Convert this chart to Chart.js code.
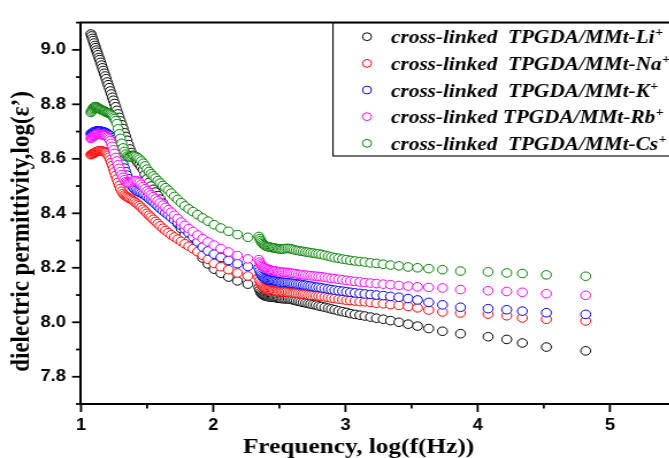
<!DOCTYPE html>
<html>
<head>
<meta charset="utf-8">
<script src="https://cdn.jsdelivr.net/npm/chart.js@4.4.1/dist/chart.umd.min.js"></script>
<style>
  html, body { margin: 0; padding: 0; background: #fff; width: 669px; height: 458px; overflow: hidden; }
  /* the original figure is stretched sideways a little */
  #wrap { width: 600px; height: 458px; transform: scaleX(1.15); transform-origin: 0 0; }
</style>
</head>
<body>
<div id="wrap"><canvas id="chart" width="600" height="458"></canvas></div>
<script>
// log10 of frequency, shared by all five samples (low sweep, then high sweep)
const logFreq = [
  1.075, 1.080, 1.086, 1.092, 1.098, 1.104, 1.110, 1.116, 1.122, 1.128,
  1.135, 1.141, 1.148, 1.155, 1.162, 1.169, 1.176, 1.183, 1.190, 1.198,
  1.205, 1.213, 1.221, 1.229, 1.237, 1.245, 1.253, 1.262, 1.271, 1.280,
  1.289, 1.298, 1.308, 1.318, 1.328, 1.338, 1.348, 1.359, 1.370, 1.381,
  1.393, 1.405, 1.417, 1.430, 1.442, 1.456, 1.470, 1.484, 1.499, 1.514,
  1.530, 1.546, 1.563, 1.581, 1.599, 1.619, 1.639, 1.660, 1.682, 1.706,
  1.731, 1.757, 1.785, 1.815, 1.847, 1.882, 1.920, 1.961, 2.007, 2.058,
  2.116, 2.183, 2.262,
  2.345, 2.352, 2.359, 2.366, 2.374, 2.382, 2.390, 2.398, 2.407, 2.416,
  2.425, 2.435, 2.445, 2.455, 2.466, 2.477, 2.489, 2.501, 2.513, 2.526,
  2.539, 2.553, 2.567, 2.582, 2.597, 2.613, 2.629, 2.646, 2.663, 2.681,
  2.699, 2.718, 2.737, 2.757, 2.777, 2.798, 2.819, 2.844, 2.870, 2.894,
  2.920, 2.948, 2.978, 3.008, 3.038, 3.072, 3.109, 3.147, 3.190, 3.235,
  3.286, 3.341, 3.404, 3.474, 3.545, 3.630, 3.734, 3.870, 4.079, 4.220,
  4.338, 4.520, 4.817
];

const epsLi = [
  9.058, 9.051, 9.042, 9.034, 9.025, 9.016, 9.008, 8.999, 8.991, 8.982,
  8.972, 8.964, 8.954, 8.944, 8.934, 8.924, 8.914, 8.904, 8.894, 8.882,
  8.872, 8.861, 8.849, 8.838, 8.826, 8.815, 8.803, 8.791, 8.778, 8.765,
  8.752, 8.739, 8.725, 8.711, 8.696, 8.682, 8.668, 8.652, 8.636, 8.623,
  8.613, 8.604, 8.596, 8.587, 8.579, 8.570, 8.560, 8.543, 8.527, 8.513,
  8.500, 8.488, 8.478, 8.465, 8.452, 8.437, 8.422, 8.408, 8.395, 8.378,
  8.362, 8.344, 8.322, 8.300, 8.281, 8.260, 8.236, 8.214, 8.195, 8.180,
  8.166, 8.152, 8.140,
  8.128, 8.118, 8.110, 8.105, 8.101, 8.099, 8.097, 8.096, 8.095, 8.094,
  8.093, 8.093, 8.092, 8.092, 8.091, 8.090, 8.089, 8.088, 8.087, 8.087,
  8.086, 8.086, 8.086, 8.085, 8.083, 8.081, 8.079, 8.077, 8.075, 8.073,
  8.071, 8.069, 8.067, 8.065, 8.063, 8.060, 8.058, 8.055, 8.052, 8.049,
  8.046, 8.042, 8.039, 8.036, 8.032, 8.029, 8.026, 8.023, 8.019, 8.015,
  8.011, 8.006, 8.000, 7.993, 7.986, 7.977, 7.967, 7.958, 7.947, 7.937,
  7.924, 7.909, 7.895
];

const epsNa = [
  8.615, 8.617, 8.618, 8.620, 8.621, 8.623, 8.624, 8.626, 8.627, 8.628,
  8.628, 8.629, 8.629, 8.628, 8.628, 8.627, 8.626, 8.624, 8.622, 8.618,
  8.613, 8.606, 8.597, 8.587, 8.576, 8.564, 8.552, 8.539, 8.526, 8.514,
  8.502, 8.491, 8.481, 8.473, 8.467, 8.463, 8.460, 8.457, 8.454, 8.451,
  8.447, 8.443, 8.438, 8.433, 8.428, 8.422, 8.415, 8.408, 8.400, 8.393,
  8.386, 8.378, 8.370, 8.362, 8.354, 8.345, 8.337, 8.329, 8.321, 8.313,
  8.305, 8.297, 8.288, 8.279, 8.270, 8.259, 8.246, 8.231, 8.216, 8.204,
  8.193, 8.181, 8.170,
  8.165, 8.152, 8.143, 8.137, 8.132, 8.128, 8.125, 8.123, 8.121, 8.119,
  8.118, 8.117, 8.116, 8.115, 8.114, 8.113, 8.113, 8.112, 8.112, 8.111,
  8.111, 8.111, 8.110, 8.109, 8.108, 8.107, 8.106, 8.105, 8.104, 8.103,
  8.102, 8.100, 8.099, 8.098, 8.097, 8.096, 8.095, 8.093, 8.091, 8.089,
  8.087, 8.085, 8.083, 8.081, 8.080, 8.078, 8.076, 8.075, 8.073, 8.070,
  8.068, 8.065, 8.062, 8.058, 8.053, 8.045, 8.038, 8.034, 8.030, 8.024,
  8.016, 8.011, 8.005
];

const epsK = [
  8.692, 8.694, 8.696, 8.697, 8.699, 8.700, 8.701, 8.702, 8.702, 8.702,
  8.702, 8.702, 8.701, 8.701, 8.700, 8.699, 8.698, 8.697, 8.695, 8.693,
  8.690, 8.688, 8.684, 8.678, 8.671, 8.664, 8.656, 8.646, 8.636, 8.625,
  8.614, 8.604, 8.593, 8.580, 8.566, 8.553, 8.540, 8.527, 8.515, 8.505,
  8.495, 8.488, 8.484, 8.480, 8.477, 8.474, 8.470, 8.466, 8.460, 8.454,
  8.448, 8.442, 8.434, 8.426, 8.418, 8.410, 8.402, 8.394, 8.385, 8.376,
  8.366, 8.355, 8.342, 8.328, 8.313, 8.295, 8.276, 8.262, 8.250, 8.238,
  8.227, 8.215, 8.205,
  8.200, 8.188, 8.179, 8.173, 8.168, 8.164, 8.161, 8.159, 8.157, 8.156,
  8.155, 8.154, 8.153, 8.152, 8.151, 8.150, 8.149, 8.148, 8.147, 8.147,
  8.146, 8.146, 8.145, 8.144, 8.143, 8.142, 8.141, 8.140, 8.139, 8.137,
  8.136, 8.134, 8.133, 8.131, 8.129, 8.128, 8.126, 8.124, 8.122, 8.120,
  8.118, 8.116, 8.114, 8.112, 8.110, 8.108, 8.106, 8.104, 8.102, 8.100,
  8.098, 8.095, 8.092, 8.087, 8.082, 8.073, 8.064, 8.055, 8.050, 8.046,
  8.041, 8.035, 8.029
];

const epsRb = [
  8.675, 8.677, 8.680, 8.682, 8.684, 8.686, 8.688, 8.689, 8.690, 8.690,
  8.690, 8.690, 8.689, 8.689, 8.688, 8.687, 8.686, 8.685, 8.684, 8.681,
  8.678, 8.673, 8.667, 8.657, 8.646, 8.633, 8.620, 8.605, 8.592, 8.578,
  8.565, 8.553, 8.542, 8.532, 8.523, 8.516, 8.513, 8.512, 8.513, 8.516,
  8.519, 8.520, 8.520, 8.517, 8.513, 8.506, 8.498, 8.490, 8.482, 8.475,
  8.468, 8.461, 8.453, 8.446, 8.438, 8.430, 8.422, 8.413, 8.404, 8.393,
  8.381, 8.368, 8.356, 8.344, 8.333, 8.320, 8.307, 8.295, 8.283, 8.271,
  8.258, 8.245, 8.233,
  8.230, 8.221, 8.214, 8.209, 8.205, 8.202, 8.200, 8.198, 8.196, 8.194,
  8.193, 8.191, 8.190, 8.189, 8.188, 8.187, 8.186, 8.185, 8.184, 8.184,
  8.183, 8.183, 8.182, 8.181, 8.180, 8.179, 8.178, 8.176, 8.175, 8.174,
  8.173, 8.172, 8.171, 8.170, 8.169, 8.168, 8.167, 8.165, 8.163, 8.161,
  8.160, 8.158, 8.156, 8.154, 8.152, 8.150, 8.148, 8.146, 8.144, 8.142,
  8.140, 8.138, 8.135, 8.133, 8.130, 8.128, 8.126, 8.120, 8.116, 8.113,
  8.110, 8.105, 8.099
];

const epsCs = [
  8.770, 8.775, 8.780, 8.785, 8.789, 8.791, 8.792, 8.791, 8.789, 8.787,
  8.785, 8.783, 8.781, 8.779, 8.778, 8.777, 8.775, 8.773, 8.771, 8.770,
  8.768, 8.767, 8.765, 8.762, 8.758, 8.753, 8.747, 8.740, 8.729, 8.710,
  8.692, 8.675, 8.657, 8.640, 8.627, 8.617, 8.610, 8.607, 8.607, 8.608,
  8.610, 8.610, 8.608, 8.604, 8.599, 8.592, 8.584, 8.574, 8.562, 8.553,
  8.545, 8.537, 8.529, 8.520, 8.511, 8.502, 8.494, 8.485, 8.474, 8.462,
  8.451, 8.439, 8.427, 8.416, 8.406, 8.395, 8.383, 8.371, 8.358, 8.346,
  8.334, 8.322, 8.312,
  8.315, 8.307, 8.300, 8.294, 8.289, 8.285, 8.282, 8.280, 8.278, 8.277,
  8.276, 8.275, 8.274, 8.273, 8.272, 8.271, 8.270, 8.269, 8.269, 8.269,
  8.270, 8.271, 8.271, 8.270, 8.268, 8.266, 8.264, 8.263, 8.261, 8.260,
  8.258, 8.257, 8.255, 8.254, 8.252, 8.251, 8.249, 8.246, 8.243, 8.240,
  8.237, 8.235, 8.232, 8.230, 8.227, 8.225, 8.223, 8.221, 8.218, 8.216,
  8.213, 8.210, 8.207, 8.203, 8.200, 8.197, 8.193, 8.188, 8.185, 8.181,
  8.179, 8.174, 8.169
];

const seriesNames = [
  'cross-linked  TPGDA/MMt-Li',
  'cross-linked  TPGDA/MMt-Na',
  'cross-linked  TPGDA/MMt-K',
  'cross-linked TPGDA/MMt-Rb',
  'cross-linked  TPGDA/MMt-Cs'
];
const seriesValues = [epsLi, epsNa, epsK, epsRb, epsCs];
const seriesColors = ['#000000', '#ff0000', '#0000ff', '#ff00ff', '#008000'];

const xTitle = 'Frequency, log(f(Hz))';
const yTitle = 'dielectric permittivity,log(ε’)';

const S = 1.15;          // sideways stretch applied by the wrapper
const tickFont = { family: '"Liberation Sans", Arial, sans-serif', size: 16, weight: 'bold' };

// frame, tick marks, axis titles and the legend box
const decorations = {
  id: 'decorations',
  afterDraw(chart) {
    const { ctx, chartArea: a, scales: { x, y } } = chart;
    ctx.save();
    ctx.strokeStyle = '#000';
    ctx.fillStyle = '#000';

    ctx.lineWidth = 2;
    ctx.beginPath();
    ctx.moveTo(a.left - 1, a.top);
    ctx.lineTo(a.right, a.top);
    ctx.lineTo(a.right, a.bottom);
    ctx.stroke();

    ctx.lineWidth = 1.8;
    y.ticks.forEach(t => {
      const py = y.getPixelForValue(t.value);
      const len = (Math.round(t.value * 10) % 2 === 0 ? 9 : 5) / S;
      ctx.beginPath();
      ctx.moveTo(a.left - len, py);
      ctx.lineTo(a.left, py);
      ctx.stroke();
    });
    x.ticks.forEach(t => {
      const px = x.getPixelForValue(t.value);
      const len = Number.isInteger(Math.round(t.value * 100) / 100) ? 8 : 4.5;
      ctx.beginPath();
      ctx.moveTo(px, a.bottom);
      ctx.lineTo(px, a.bottom + len);
      ctx.stroke();
    });

    ctx.font = 'bold 22px "Liberation Serif", "Times New Roman", serif';
    ctx.textAlign = 'center';
    ctx.textBaseline = 'alphabetic';
    ctx.fillText(xTitle, 358.5 / S, 453);

    ctx.save();
    ctx.font = 'bold 23px "Liberation Serif", "Times New Roman", serif';
    ctx.translate(29 / S, 231.5);
    ctx.rotate(-Math.PI / 2);
    ctx.fillText(yTitle, 0, 0);
    ctx.restore();

    // legend
    const boxLeft = 333 / S;
    ctx.lineWidth = 1.1;
    ctx.strokeRect(boxLeft, a.top, chart.width - boxLeft + 5, 156 - a.top);
    ctx.textAlign = 'left';
    seriesNames.forEach((name, i) => {
      const ry = 36.7 + i * 26.65;
      ctx.strokeStyle = seriesColors[i];
      ctx.lineWidth = 1;
      ctx.beginPath();
      ctx.arc(367 / S, ry, 3.9, 0, Math.PI * 2);
      ctx.stroke();
      ctx.font = 'italic bold 18.5px "Liberation Serif", "Times New Roman", serif';
      ctx.fillText(name, 391 / S, ry + 6.5);
      const w = ctx.measureText(name).width;
      ctx.font = 'bold 12px "Liberation Serif", "Times New Roman", serif';
      ctx.fillText('+', 391 / S + w + 0.5, ry - 0.5);
    });
    ctx.restore();
  }
};

const datasets = seriesValues.map((vals, i) => ({
  label: seriesNames[i],
  data: logFreq.map((f, k) => ({ x: f, y: vals[k] })),
  showLine: false,
  pointStyle: 'circle',
  pointRadius: 4.3,
  pointBorderWidth: 1,
  pointBorderColor: seriesColors[i],
  pointBackgroundColor: '#ffffff',
  order: seriesValues.length - i   // last series drawn on top, as in the figure
}));

new Chart(document.getElementById('chart'), {
  type: 'scatter',
  data: { datasets },
  options: {
    responsive: false,
    animation: false,
    layout: { padding: { left: 0, top: 18, right: 600 - 676 / S, bottom: 0 } },
    plugins: { legend: { display: false }, tooltip: { enabled: false } },
    scales: {
      x: {
        type: 'linear',
        min: 1,
        max: 5.5,
        afterFit: s => { s.height = 54; },
        grid: { display: false, drawTicks: false },
        border: { display: true, color: '#000', width: 2 },
        ticks: {
          stepSize: 0.5,
          autoSkip: false,
          maxRotation: 0,
          padding: 12,
          color: '#000',
          font: tickFont,
          callback: v => Number.isInteger(Math.round(v * 100) / 100) ? String(Math.round(v)) : ''
        }
      },
      y: {
        type: 'linear',
        min: 7.7,
        max: 9.1,
        afterFit: s => { s.width = 81 / S; },
        grid: { display: false, drawTicks: false },
        border: { display: true, color: '#000', width: 2 },
        ticks: {
          stepSize: 0.1,
          autoSkip: false,
          padding: 13,
          color: '#000',
          font: tickFont,
          callback: v => Math.round(v * 10) % 2 === 0 ? v.toFixed(1) : ''
        }
      }
    }
  },
  plugins: [decorations]
});
</script>
</body>
</html>
